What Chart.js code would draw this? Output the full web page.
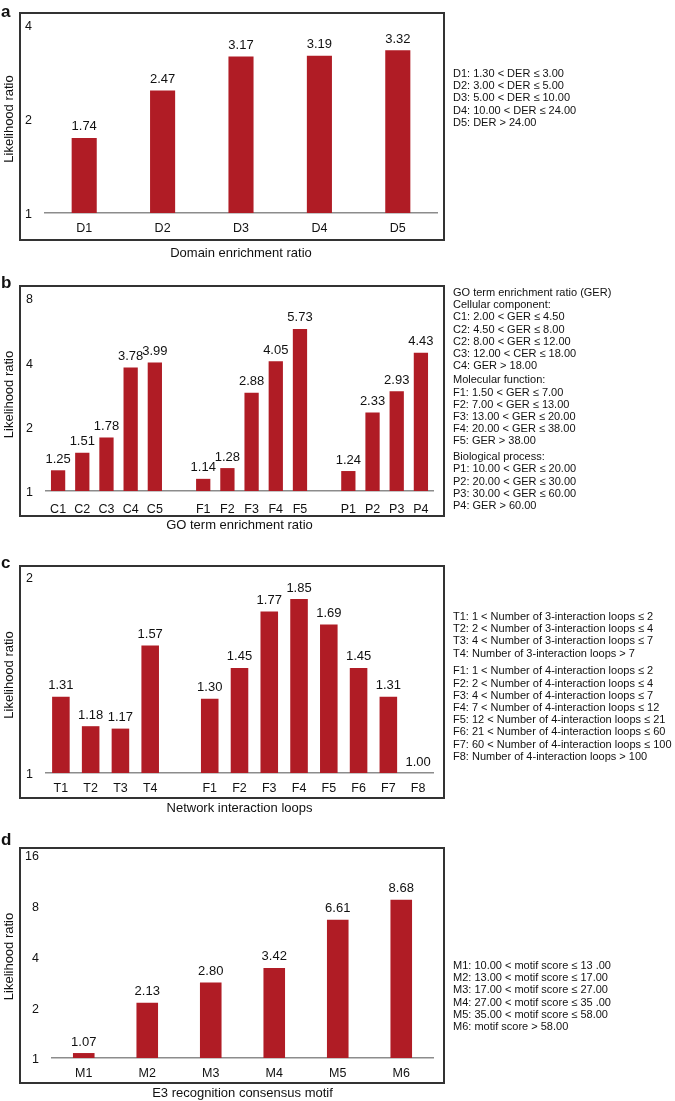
<!DOCTYPE html>
<html>
<head>
<meta charset="utf-8">
<script src="https://cdn.jsdelivr.net/npm/chart.js@4.4.1/dist/chart.umd.min.js"></script>
<style>
    body { margin: 0; background: #fff; font-family: "Liberation Sans", Arial, sans-serif; color: #111; }
    #page { position: relative; width: 675px; height: 1101px; overflow: hidden; }
    canvas { position: absolute; left: 0; }
    .box { position: absolute; left: 19px; width: 426px; border: 2px solid #333; box-sizing: border-box; pointer-events: none; }
    .letter { position: absolute; left: 1px; font-weight: bold; font-size: 17px; line-height: 17px; }
    .legend { position: absolute; left: 453px; font-size: 11px; line-height: 12.2px; white-space: nowrap; will-change: transform; }
</style>
</head>
<body>
<div id="page">
    <canvas id="chartA"></canvas>
    <canvas id="chartB"></canvas>
    <canvas id="chartC"></canvas>
    <canvas id="chartD"></canvas>
</div>
<script>
// panel a
const aLabels = ['D1', 'D2', 'D3', 'D4', 'D5'];
const aValues = [1.74, 2.47, 3.17, 3.19, 3.32];
const aTicks = [1, 2, 4];
const aLegend = [[
    'D1: 1.30 < DER ≤ 3.00',
    'D2: 3.00 < DER ≤ 5.00',
    'D3: 5.00 < DER ≤ 10.00',
    'D4: 10.00 < DER ≤ 24.00',
    'D5: DER > 24.00'
]];

// panel b
const bLabels = ['C1', 'C2', 'C3', 'C4', 'C5', '', 'F1', 'F2', 'F3', 'F4', 'F5', '', 'P1', 'P2', 'P3', 'P4'];
const bValues = [1.25, 1.51, 1.78, 3.78, 3.99, null, 1.14, 1.28, 2.88, 4.05, 5.73, null, 1.24, 2.33, 2.93, 4.43];
const bTicks = [1, 2, 4, 8];
const bLegend = [
    ['GO term enrichment ratio (GER)', 'Cellular component:',
     'C1: 2.00 < GER ≤ 4.50', 'C2: 4.50 < GER ≤ 8.00', 'C2: 8.00 < GER ≤ 12.00',
     'C3: 12.00 < CER ≤ 18.00', 'C4: GER > 18.00'],
    ['Molecular function:',
     'F1: 1.50 < GER ≤ 7.00', 'F2: 7.00 < GER ≤ 13.00', 'F3: 13.00 < GER ≤ 20.00',
     'F4: 20.00 < GER ≤ 38.00', 'F5: GER > 38.00'],
    ['Biological process:',
     'P1: 10.00 < GER ≤ 20.00', 'P2: 20.00 < GER ≤ 30.00', 'P3: 30.00 < GER ≤ 60.00',
     'P4: GER > 60.00']
];

// panel c
const cLabels = ['T1', 'T2', 'T3', 'T4', '', 'F1', 'F2', 'F3', 'F4', 'F5', 'F6', 'F7', 'F8'];
const cValues = [1.31, 1.18, 1.17, 1.57, null, 1.30, 1.45, 1.77, 1.85, 1.69, 1.45, 1.31, 1.00];
const cTicks = [1, 2];
const cLegend = [
    ['T1: 1 < Number of 3-interaction loops ≤ 2',
     'T2: 2 < Number of 3-interaction loops ≤ 4',
     'T3: 4 < Number of 3-interaction loops ≤ 7',
     'T4: Number of 3-interaction loops > 7'],
    ['F1: 1 < Number of 4-interaction loops ≤ 2',
     'F2: 2 < Number of 4-interaction loops ≤ 4',
     'F3: 4 < Number of 4-interaction loops ≤ 7',
     'F4: 7 < Number of 4-interaction loops ≤ 12',
     'F5: 12 < Number of 4-interaction loops ≤ 21',
     'F6: 21 < Number of 4-interaction loops ≤ 60',
     'F7: 60 < Number of 4-interaction loops ≤ 100',
     'F8: Number of 4-interaction loops > 100']
];

// panel d
const dLabels = ['M1', 'M2', 'M3', 'M4', 'M5', 'M6'];
const dValues = [1.07, 2.13, 2.80, 3.42, 6.61, 8.68];
const dTicks = [1, 2, 4, 8, 16];
const dLegend = [[
    'M1: 10.00 < motif score ≤ 13 .00',
    'M2: 13.00 < motif score ≤ 17.00',
    'M3: 17.00 < motif score ≤ 27.00',
    'M4: 27.00 < motif score ≤ 35 .00',
    'M5: 35.00 < motif score ≤ 58.00',
    'M6: motif score > 58.00'
]];

const FONT = '"Liberation Sans", Arial, sans-serif';
const BAR_COLOR = '#b01c25';
const TEXT_COLOR = '#111';

// numbers above the bars
const valueLabels = {
    id: 'valueLabels',
    afterDatasetsDraw(chart) {
        const ctx = chart.ctx;
        const bars = chart.getDatasetMeta(0).data;
        const values = chart.data.datasets[0].data;
        ctx.save();
        ctx.font = '13px ' + FONT;
        ctx.fillStyle = TEXT_COLOR;
        ctx.textAlign = 'center';
        ctx.textBaseline = 'alphabetic';
        bars.forEach((bar, i) => {
            if (values[i] == null) return;
            ctx.fillText(values[i].toFixed(2), bar.x, bar.y - 7.5);
        });
        ctx.restore();
    }
};

function addText(cls, top, html) {
    const el = document.createElement('div');
    el.className = cls;
    el.style.top = top + 'px';
    el.innerHTML = html;
    document.getElementById('page').appendChild(el);
    return el;
}

function drawPanel(p) {
    const height = p.titleY + 8 - p.boxTop;
    const canvas = document.getElementById(p.id);
    canvas.width = 446;
    canvas.height = height;
    canvas.style.width = '446px';
    canvas.style.height = height + 'px';
    canvas.style.top = p.boxTop + 'px';

    const box = addText('box', p.boxTop, '');
    box.style.height = (p.boxBottom - p.boxTop) + 'px';
    addText('letter', p.letterTop, p.letter);

    const legend = addText('legend', p.legendTop, '');
    p.legend.forEach((group, gi) => {
        const g = document.createElement('div');
        if (gi > 0) g.style.marginTop = p.legendGaps[gi - 1] + 'px';
        g.innerHTML = group.map(s => s.replace(/</g, '&lt;').replace(/>/g, '&gt;')).join('<br>');
        legend.appendChild(g);
    });

    return new Chart(canvas, {
        type: 'bar',
        data: {
            labels: p.labels,
            datasets: [{
                data: p.values,
                backgroundColor: BAR_COLOR,
                borderWidth: 0,
                barPercentage: p.barPct,
                categoryPercentage: 1
            }]
        },
        options: {
            responsive: false,
            animation: false,
            events: [],
            layout: {
                padding: { left: 0, right: 446 - p.right, top: p.top - p.boxTop, bottom: 0 }
            },
            plugins: { legend: { display: false }, tooltip: { enabled: false } },
            scales: {
                x: {
                    grid: { display: false, drawTicks: false },
                    border: { display: true, color: '#8c8c8c', width: 1.5 },
                    ticks: { padding: p.catPad, autoSkip: false, maxRotation: 0, color: TEXT_COLOR, font: { family: FONT, size: 12.5 } },
                    title: { display: true, text: p.xTitle, color: TEXT_COLOR, font: { family: FONT, size: 13 }, padding: 0 },
                    afterFit(scale) {
                        scale.height = height - (p.bottom - p.boxTop);
                        scale.paddingLeft = 0;
                        scale.paddingRight = 0;
                    }
                },
                y: {
                    type: 'logarithmic',
                    min: 1,
                    max: p.ticks[p.ticks.length - 1],
                    grid: { display: false, drawTicks: false },
                    border: { display: false },
                    afterBuildTicks(scale) { scale.ticks = p.ticks.map(v => ({ value: v })); },
                    ticks: { padding: 13, labelOffset: 2, color: TEXT_COLOR, font: { family: FONT, size: 12.5 }, callback: v => String(v) },
                    title: { display: true, text: 'Likelihood ratio', color: TEXT_COLOR, font: { family: FONT, size: 13 }, padding: { top: 2, bottom: 0 } },
                    afterFit(scale) {
                        scale.width = p.left;
                        scale.paddingTop = 0;
                        scale.paddingBottom = 0;
                    }
                }
            }
        },
        plugins: [valueLabels]
    });
}

drawPanel({
    id: 'chartA', letter: 'a', labels: aLabels, values: aValues, ticks: aTicks, legend: aLegend, legendGaps: [],
    xTitle: 'Domain enrichment ratio', boxTop: 12, boxBottom: 241, letterTop: 3,
    left: 45, right: 437, top: 25, bottom: 213, catPad: 8, titleY: 253, barPct: 0.32, legendTop: 67
});
drawPanel({
    id: 'chartB', letter: 'b', labels: bLabels, values: bValues, ticks: bTicks, legend: bLegend, legendGaps: [2, 3.5],
    xTitle: 'GO term enrichment ratio', boxTop: 285, boxBottom: 517, letterTop: 274,
    left: 46, right: 433, top: 298, bottom: 491, catPad: 11, titleY: 525, barPct: 0.59, legendTop: 286
});
drawPanel({
    id: 'chartC', letter: 'c', labels: cLabels, values: cValues, ticks: cTicks, legend: cLegend, legendGaps: [5.5],
    xTitle: 'Network interaction loops', boxTop: 565, boxBottom: 799, letterTop: 554,
    left: 46, right: 433, top: 577, bottom: 773, catPad: 8, titleY: 808, barPct: 0.59, legendTop: 610
});
drawPanel({
    id: 'chartD', letter: 'd', labels: dLabels, values: dValues, ticks: dTicks, legend: dLegend, legendGaps: [],
    xTitle: 'E3 recognition consensus motif', boxTop: 847, boxBottom: 1084, letterTop: 831,
    left: 52, right: 433, top: 855, bottom: 1058, catPad: 8, titleY: 1093, barPct: 0.34, legendTop: 959
});
</script>
</body>
</html>
